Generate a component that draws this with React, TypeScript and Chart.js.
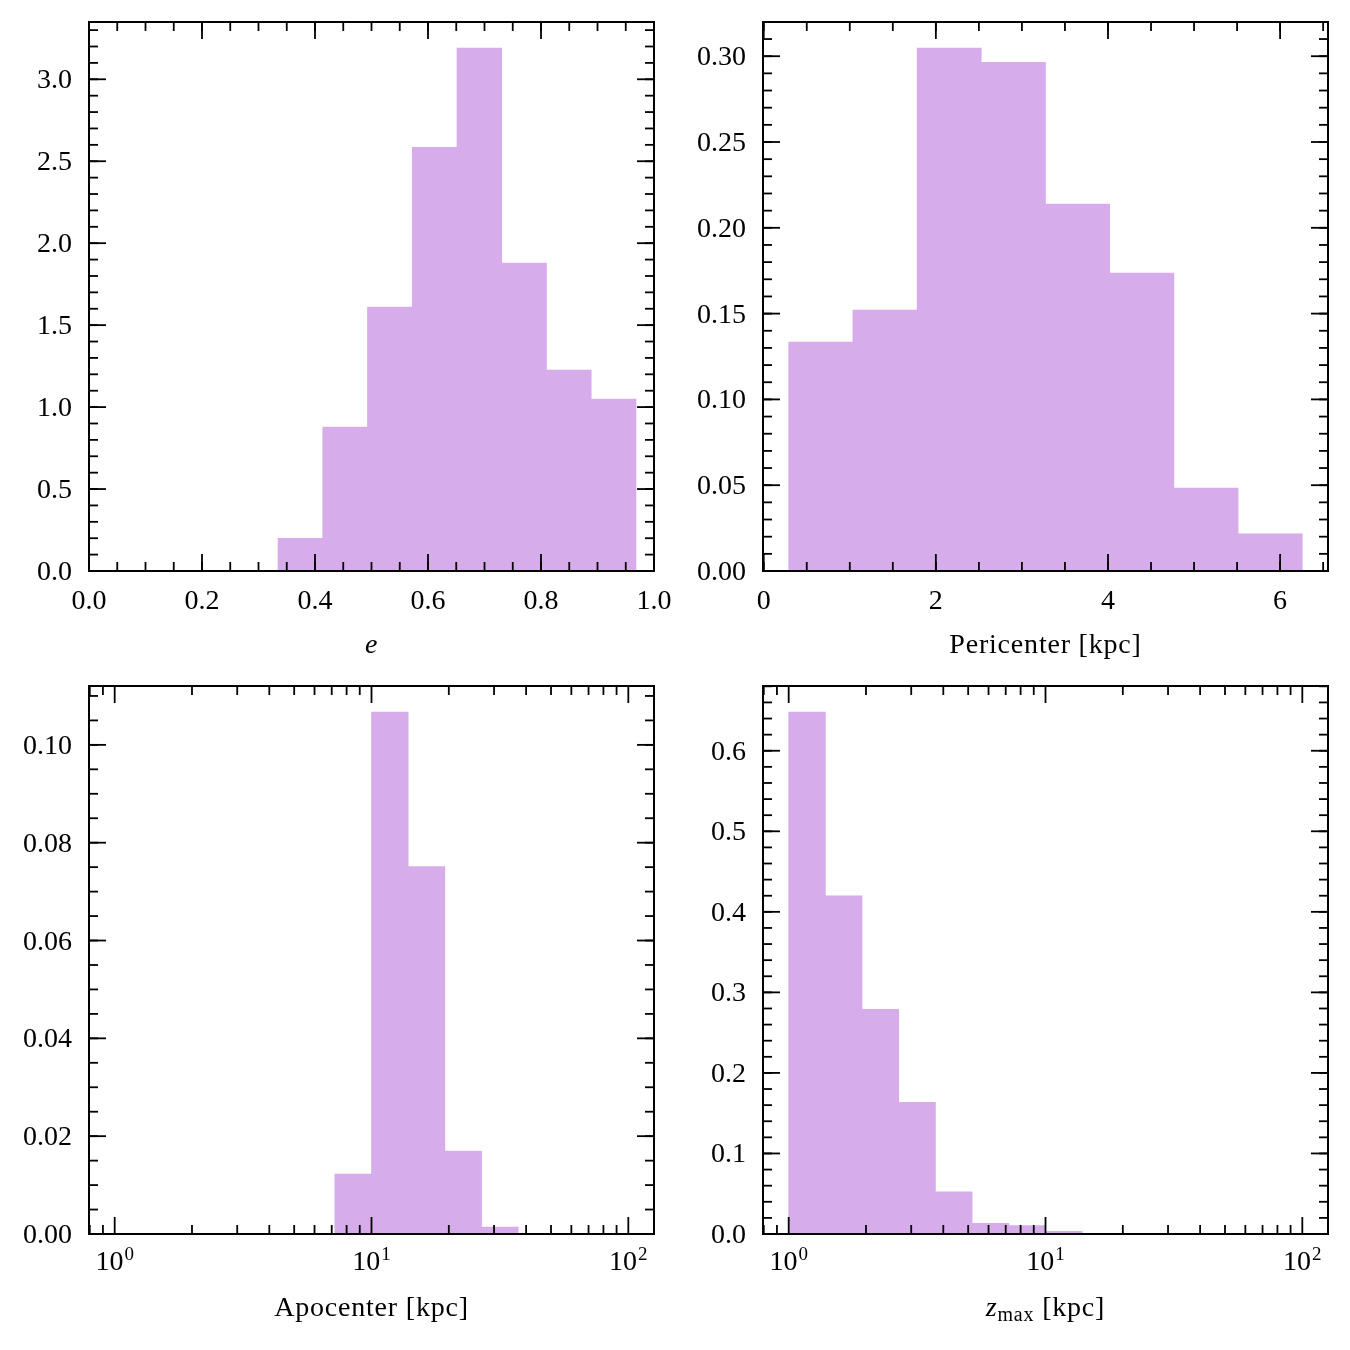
import { useEffect, useRef } from "react";
import { Chart, registerables } from "chart.js";

Chart.register(...registerables);

const BAR_COLOR = "rgb(214, 172, 234)";
const FONT = '"Liberation Serif", "Times New Roman", serif';

// Orbital eccentricity e (normalised histogram)
const eccEdges = [0.3345, 0.4137, 0.4929, 0.5721, 0.6513, 0.7305, 0.8097, 0.8889, 0.9681];
const eccDensity = [0.2, 0.878, 1.61, 2.585, 3.19, 1.878, 1.226, 1.049];
const eccXTicks = [0, 0.2, 0.4, 0.6, 0.8, 1.0];
const eccXTickLabels = ["0.0", "0.2", "0.4", "0.6", "0.8", "1.0"];
const eccYTicks = [0, 0.5, 1.0, 1.5, 2.0, 2.5, 3.0];
const eccYTickLabels = ["0.0", "0.5", "1.0", "1.5", "2.0", "2.5", "3.0"];

// Pericenter distance [kpc]
const periEdges = [0.29, 1.036, 1.782, 2.528, 3.274, 4.02, 4.766, 5.512, 6.258];
const periDensity = [0.1334, 0.152, 0.3047, 0.2965, 0.2138, 0.1736, 0.0483, 0.0216];
const periXTicks = [0, 2, 4, 6];
const periXTickLabels = ["0", "2", "4", "6"];
const periYTicks = [0, 0.05, 0.1, 0.15, 0.2, 0.25, 0.3];
const periYTickLabels = ["0.00", "0.05", "0.10", "0.15", "0.20", "0.25", "0.30"];

// Apocenter and z_max share logarithmic bins between 1 and 100 kpc
const logBinEdges = [1, 1.3895, 1.9307, 2.6827, 3.7276, 5.1795, 7.1969, 10, 13.895, 19.307, 26.827, 37.276, 51.795, 71.969, 100];
const apoDensity = [0, 0, 0, 0, 0, 0, 0.01224, 0.1067, 0.0751, 0.01694, 0.0014, 0, 0, 0];
const zmaxDensity = [0.648, 0.42, 0.279, 0.1636, 0.0525, 0.0133, 0.0103, 0.0033, 0, 0, 0, 0, 0, 0];
const logXTicks = [1, 10, 100];
const logXTickExponents = ["0", "1", "2"];
const apoYTicks = [0, 0.02, 0.04, 0.06, 0.08, 0.1];
const apoYTickLabels = ["0.00", "0.02", "0.04", "0.06", "0.08", "0.10"];
const zmaxYTicks = [0, 0.1, 0.2, 0.3, 0.4, 0.5, 0.6];
const zmaxYTickLabels = ["0.0", "0.1", "0.2", "0.3", "0.4", "0.5", "0.6"];

type TitlePart = { text: string; italic?: boolean; sub?: boolean };

type Panel = {
  x: number;
  y: number;
  padding: { left: number; top: number; right: number; bottom: number };
  edges: number[];
  values: number[];
  log: boolean;
  xRange?: [number, number];
  xTicks: number[];
  xLabels: string[];
  xMinorStep: number;
  yTicks: number[];
  yLabels: string[];
  yMinorStep: number;
  title: TitlePart[];
};

const SIZE = 675;

const panels: Panel[] = [
  {
    x: 0, y: 0,
    padding: { left: 89, top: 22, right: SIZE - 654, bottom: SIZE - 571 },
    edges: eccEdges, values: eccDensity, log: false, xRange: [0, 1],
    xTicks: eccXTicks, xLabels: eccXTickLabels, xMinorStep: 0.05,
    yTicks: eccYTicks, yLabels: eccYTickLabels, yMinorStep: 0.1,
    title: [{ text: "e", italic: true }],
  },
  {
    x: SIZE, y: 0,
    padding: { left: 763 - SIZE, top: 22, right: SIZE * 2 - 1328, bottom: SIZE - 571 },
    edges: periEdges, values: periDensity, log: false,
    xTicks: periXTicks, xLabels: periXTickLabels, xMinorStep: 0.5,
    yTicks: periYTicks, yLabels: periYTickLabels, yMinorStep: 0.01,
    title: [{ text: "Pericenter [kpc]" }],
  },
  {
    x: 0, y: SIZE,
    padding: { left: 89, top: 686 - SIZE, right: SIZE - 654, bottom: SIZE * 2 - 1234 },
    edges: logBinEdges, values: apoDensity, log: true,
    xTicks: logXTicks, xLabels: logXTickExponents, xMinorStep: 0,
    yTicks: apoYTicks, yLabels: apoYTickLabels, yMinorStep: 0.005,
    title: [{ text: "Apocenter [kpc]" }],
  },
  {
    x: SIZE, y: SIZE,
    padding: { left: 763 - SIZE, top: 686 - SIZE, right: SIZE * 2 - 1328, bottom: SIZE * 2 - 1234 },
    edges: logBinEdges, values: zmaxDensity, log: true,
    xTicks: logXTicks, xLabels: logXTickExponents, xMinorStep: 0,
    yTicks: zmaxYTicks, yLabels: zmaxYTickLabels, yMinorStep: 0.02,
    title: [{ text: "z", italic: true }, { text: "max", sub: true }, { text: " [kpc]" }],
  },
];

// Axis limits with a 5% margin around the bin range (in log space for log axes)
function xLimits(p: Panel): [number, number] {
  if (p.xRange) return p.xRange;
  const a = p.edges[0];
  const b = p.edges[p.edges.length - 1];
  if (p.log) {
    const la = Math.log10(a);
    const lb = Math.log10(b);
    const m = (lb - la) * 0.05;
    return [Math.pow(10, la - m), Math.pow(10, lb + m)];
  }
  const m = (b - a) * 0.05;
  return [a - m, b + m];
}

function minorValues(min: number, max: number, step: number, log: boolean): number[] {
  const out: number[] = [];
  if (log) {
    const e0 = Math.floor(Math.log10(min));
    const e1 = Math.ceil(Math.log10(max));
    for (let e = e0; e <= e1; e++) {
      for (let m = 2; m <= 9; m++) {
        const v = m * Math.pow(10, e);
        if (v >= min && v <= max) out.push(v);
      }
    }
    return out;
  }
  const k0 = Math.ceil(min / step - 1e-9);
  const k1 = Math.floor(max / step + 1e-9);
  for (let k = k0; k <= k1; k++) out.push(k * step);
  return out;
}

function drawAxes(chart: Chart, p: Panel) {
  const { ctx, chartArea } = chart;
  const { left, right, top, bottom } = chartArea;
  const xs = chart.scales.x;
  const ys = chart.scales.y;
  const MAJOR = 17;
  const MINOR = 9;

  ctx.save();
  ctx.strokeStyle = "#000";
  ctx.lineWidth = 1.8;
  const seg = (x1: number, y1: number, x2: number, y2: number) => {
    ctx.beginPath();
    ctx.moveTo(x1, y1);
    ctx.lineTo(x2, y2);
    ctx.stroke();
  };
  const xTick = (v: number, len: number) => {
    const px = xs.getPixelForValue(v);
    if (px < left - 0.5 || px > right + 0.5) return;
    seg(px, bottom, px, bottom - len);
    seg(px, top, px, top + len);
  };
  const yTick = (v: number, len: number) => {
    const py = ys.getPixelForValue(v);
    if (py < top - 0.5 || py > bottom + 0.5) return;
    seg(left, py, left + len, py);
    seg(right, py, right - len, py);
  };

  minorValues(xs.min, xs.max, p.xMinorStep, p.log).forEach((v) => xTick(v, MINOR));
  p.xTicks.forEach((v) => xTick(v, MAJOR));
  minorValues(ys.min, ys.max, p.yMinorStep, false).forEach((v) => yTick(v, MINOR));
  p.yTicks.forEach((v) => yTick(v, MAJOR));

  ctx.lineWidth = 2;
  ctx.strokeRect(left, top, right - left, bottom - top);

  // tick labels
  ctx.fillStyle = "#000";
  ctx.textBaseline = "alphabetic";
  ctx.font = `28px ${FONT}`;
  ctx.textAlign = "right";
  p.yTicks.forEach((v, i) => {
    const py = ys.getPixelForValue(v);
    ctx.fillText(p.yLabels[i], left - 17, py + 9);
  });

  if (p.log) {
    ctx.textAlign = "left";
    p.xTicks.forEach((v, i) => {
      const px = xs.getPixelForValue(v);
      ctx.font = `28px ${FONT}`;
      const wBase = ctx.measureText("10").width;
      ctx.font = `19px ${FONT}`;
      const wExp = ctx.measureText(p.xLabels[i]).width;
      const x0 = px - (wBase + 1 + wExp) / 2;
      ctx.font = `28px ${FONT}`;
      ctx.fillText("10", x0, bottom + 36);
      ctx.font = `19px ${FONT}`;
      ctx.fillText(p.xLabels[i], x0 + wBase + 1, bottom + 26);
    });
  } else {
    ctx.textAlign = "center";
    p.xTicks.forEach((v, i) => {
      const px = xs.getPixelForValue(v);
      ctx.fillText(p.xLabels[i], px, bottom + 38);
    });
  }

  // axis title
  const fontFor = (part: TitlePart) =>
    part.sub ? `20px ${FONT}` : `${part.italic ? "italic " : ""}28px ${FONT}`;
  ctx.textAlign = "left";
  (ctx as any).letterSpacing = "0.8px";
  let total = 0;
  const widths = p.title.map((part) => {
    ctx.font = fontFor(part);
    const w = ctx.measureText(part.text).width;
    total += w;
    return w;
  });
  let cx = (left + right) / 2 - total / 2;
  const base = bottom + 82;
  p.title.forEach((part, i) => {
    ctx.font = fontFor(part);
    ctx.fillText(part.text, cx, part.sub ? base + 5 : base);
    cx += widths[i];
  });
  ctx.restore();
}

function HistogramPanel({ panel }: { panel: Panel }) {
  const ref = useRef<HTMLCanvasElement>(null);

  useEffect(() => {
    const canvas = ref.current;
    if (!canvas) return;
    const [xMin, xMax] = xLimits(panel);
    const centers = panel.values.map((_, i) =>
      panel.log
        ? Math.sqrt(panel.edges[i] * panel.edges[i + 1])
        : (panel.edges[i] + panel.edges[i + 1]) / 2
    );
    const yMax = Math.max(...panel.values) * 1.05;

    const chart = new Chart(canvas, {
      type: "bar",
      data: {
        datasets: [
          {
            data: centers.map((x, i) => ({ x, y: panel.values[i] })),
            backgroundColor: BAR_COLOR,
            borderWidth: 0,
            categoryPercentage: 1,
            barPercentage: 1,
          },
        ],
      },
      options: {
        animation: false,
        responsive: false,
        devicePixelRatio: 1,
        layout: { padding: panel.padding },
        plugins: { legend: { display: false }, tooltip: { enabled: false } },
        scales: {
          x: {
            type: panel.log ? "logarithmic" : "linear",
            min: xMin,
            max: xMax,
            offset: false,
            bounds: "data",
            display: false,
            afterBuildTicks: (scale: any) => {
              scale.ticks = panel.xTicks.map((v) => ({ value: v }));
            },
          },
          y: {
            type: "linear",
            min: 0,
            max: yMax,
            bounds: "data",
            display: false,
          },
        },
      } as any,
      plugins: [
        {
          id: "insideTicksFrame",
          afterDraw: (c: Chart) => drawAxes(c, panel),
        },
      ],
    });
    return () => chart.destroy();
  }, [panel]);

  return (
    <canvas
      ref={ref}
      width={SIZE}
      height={SIZE}
      style={{ position: "absolute", left: panel.x, top: panel.y, width: SIZE, height: SIZE }}
    />
  );
}

export default function App() {
  return (
    <div
      style={{
        position: "fixed",
        left: 0,
        top: 0,
        width: SIZE * 2,
        height: SIZE * 2,
        background: "#fff",
      }}
    >
      {panels.map((p, i) => (
        <HistogramPanel key={i} panel={p} />
      ))}
    </div>
  );
}
